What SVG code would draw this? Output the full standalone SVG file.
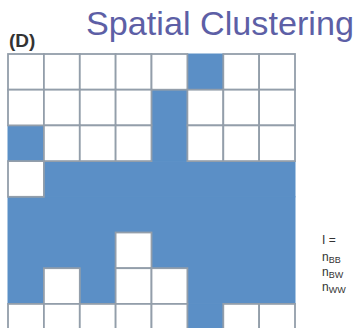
<svg xmlns="http://www.w3.org/2000/svg" width="361" height="328" viewBox="0 0 361 328">
<style>
.w{fill:#ffffff;stroke:#939eaa;stroke-width:1.8}
.b{fill:#5b8fc6;stroke:#5b8fc6;stroke-width:1}
.t{font-family:"Liberation Sans",Arial,sans-serif}
</style>
<rect width="361" height="328" fill="#ffffff"/>
<g id="title"><text class="t" x="86" y="35" font-size="33" textLength="268" lengthAdjust="spacingAndGlyphs" fill="#5d5fa6">Spatial Clustering</text></g>
<g id="label"><text class="t" x="9" y="47" font-size="19" font-weight="bold" fill="#333333">(D)</text></g>
<g id="grid">
<rect class="b" x="187.4" y="54" width="35.9" height="35.7"/>
<rect class="b" x="151.5" y="89.7" width="35.9" height="71.4"/>
<rect class="b" x="8" y="125.4" width="35.9" height="35.7"/>
<rect class="b" x="43.9" y="161.1" width="251.1" height="35.7"/>
<rect class="b" x="8" y="196.8" width="287" height="107.1"/>
<rect class="b" x="187.4" y="303.9" width="35.9" height="30"/>
<g>
<rect class="w" x="8" y="54" width="35.9" height="35.7"/>
<rect class="w" x="43.9" y="54" width="35.9" height="35.7"/>
<rect class="w" x="79.8" y="54" width="35.9" height="35.7"/>
<rect class="w" x="115.6" y="54" width="35.9" height="35.7"/>
<rect class="w" x="151.5" y="54" width="35.9" height="35.7"/>
<rect class="w" x="223.3" y="54" width="35.9" height="35.7"/>
<rect class="w" x="259.1" y="54" width="35.9" height="35.7"/>

<rect class="w" x="8" y="89.7" width="35.9" height="35.7"/>
<rect class="w" x="43.9" y="89.7" width="35.9" height="35.7"/>
<rect class="w" x="79.8" y="89.7" width="35.9" height="35.7"/>
<rect class="w" x="115.6" y="89.7" width="35.9" height="35.7"/>
<rect class="w" x="187.4" y="89.7" width="35.9" height="35.7"/>
<rect class="w" x="223.3" y="89.7" width="35.9" height="35.7"/>
<rect class="w" x="259.1" y="89.7" width="35.9" height="35.7"/>

<rect class="w" x="43.9" y="125.4" width="35.9" height="35.7"/>
<rect class="w" x="79.8" y="125.4" width="35.9" height="35.7"/>
<rect class="w" x="115.6" y="125.4" width="35.9" height="35.7"/>
<rect class="w" x="187.4" y="125.4" width="35.9" height="35.7"/>
<rect class="w" x="223.3" y="125.4" width="35.9" height="35.7"/>
<rect class="w" x="259.1" y="125.4" width="35.9" height="35.7"/>

<rect class="w" x="8" y="161.1" width="35.9" height="35.7"/>

<rect class="w" x="115.6" y="232.5" width="35.9" height="35.7"/>

<rect class="w" x="43.9" y="268.2" width="35.9" height="35.7"/>
<rect class="w" x="115.6" y="268.2" width="35.9" height="35.7"/>
<rect class="w" x="151.5" y="268.2" width="35.9" height="35.7"/>

<rect class="w" x="8" y="303.9" width="35.9" height="35.7"/>
<rect class="w" x="43.9" y="303.9" width="35.9" height="35.7"/>
<rect class="w" x="79.8" y="303.9" width="35.9" height="35.7"/>
<rect class="w" x="115.6" y="303.9" width="35.9" height="35.7"/>
<rect class="w" x="151.5" y="303.9" width="35.9" height="35.7"/>
<rect class="w" x="223.3" y="303.9" width="35.9" height="35.7"/>
<rect class="w" x="259.1" y="303.9" width="35.9" height="35.7"/>
</g>
</g>
<g id="legend" class="t" font-size="12" fill="#333333">
<text x="322" y="244">I =</text>
<text x="322" y="261">n<tspan font-size="9" dy="2">BB</tspan></text>
<text x="322" y="276">n<tspan font-size="9" dy="2">BW</tspan></text>
<text x="322" y="291">n<tspan font-size="9" dy="2">WW</tspan></text>
</g>
</svg>
